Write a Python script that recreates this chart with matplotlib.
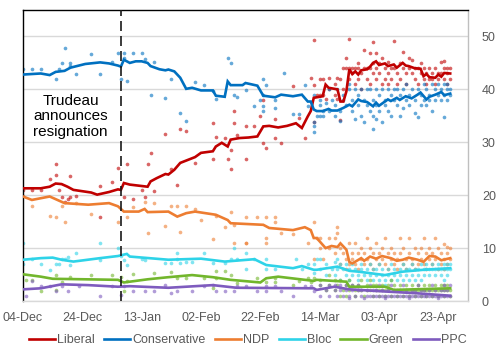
import matplotlib
matplotlib.use("Agg")
import matplotlib.pyplot as plt
import pandas as pd

plt.rcParams['font.family'] = ['Liberation Sans', 'DejaVu Sans']

# ---------------- data ----------------
parties = ["Liberal", "Conservative", "NDP", "Bloc", "Green", "PPC"]
tick_labels = ["04-Dec", "24-Dec", "13-Jan", "02-Feb", "22-Feb", "14-Mar", "03-Apr", "23-Apr"]
tick_dates = ["12-04", "12-24", "01-13", "02-02", "02-22", "03-14", "04-03", "04-23"]
event_date = "01-06"
event_text = "Trudeau\nannounces\nresignation"

lib_trend = {"12-04": 21.3, "12-10": 21.3, "12-13": 21.6, "12-15": 22.2, "12-17": 22.1, "12-19": 21.6,
             "12-21": 21.0, "12-27": 20.5, "12-29": 20.1, "01-02": 20.6, "01-05": 21.1, "01-06": 21.0,
             "01-07": 22.3, "01-09": 22.0, "01-15": 21.6, "01-16": 22.6, "01-18": 23.2, "01-21": 24.0,
             "01-22": 23.9, "01-24": 24.8, "01-26": 26.1, "01-31": 27.2, "02-02": 28.0, "02-06": 28.3,
             "02-07": 29.2, "02-09": 29.9, "02-11": 29.2, "02-12": 30.5, "02-15": 30.8, "02-18": 30.9,
             "02-21": 31.1, "02-23": 33.0, "02-25": 33.1, "02-28": 32.8, "03-03": 33.1, "03-06": 33.6,
             "03-08": 32.7, "03-10": 34.9, "03-11": 35.9, "03-12": 38.4, "03-15": 38.7, "03-16": 40.9,
             "03-17": 40.3, "03-20": 40.0, "03-21": 37.7, "03-22": 37.7, "03-23": 39.6, "03-24": 43.8,
             "03-25": 42.9, "03-26": 43.4, "03-27": 42.8, "03-28": 43.6, "03-30": 43.8, "03-31": 44.3,
             "04-01": 45.0, "04-02": 45.3, "04-03": 44.6, "04-05": 44.9, "04-06": 44.4, "04-08": 44.7,
             "04-09": 44.1, "04-11": 45.0, "04-12": 44.5, "04-13": 44.4, "04-15": 44.0, "04-17": 43.9,
             "04-18": 42.5, "04-19": 42.9, "04-20": 42.3, "04-22": 42.2, "04-23": 42.8, "04-24": 42.4,
             "04-25": 43.1, "04-27": 43.0}
cons_trend = {"12-04": 42.8, "12-10": 43.0, "12-13": 42.7, "12-15": 43.3, "12-18": 43.5, "12-20": 44.1,
              "12-25": 44.8, "12-30": 45.1, "01-02": 44.9, "01-05": 44.5, "01-06": 44.3, "01-07": 45.6,
              "01-09": 45.0, "01-11": 45.3, "01-13": 45.3, "01-15": 45.0, "01-16": 44.4, "01-19": 43.8,
              "01-21": 43.6, "01-22": 43.75, "01-24": 43.4, "01-26": 42.2, "01-28": 40.1, "01-30": 40.3,
              "02-02": 39.8, "02-06": 39.8, "02-07": 38.8, "02-10": 38.6, "02-11": 41.5, "02-12": 40.8,
              "02-16": 40.8, "02-17": 41.2, "02-21": 40.7, "02-23": 38.8, "02-27": 38.5, "03-01": 39.0,
              "03-05": 38.7, "03-08": 39.0, "03-10": 37.7, "03-11": 37.7, "03-12": 36.2, "03-13": 35.9,
              "03-15": 35.9, "03-17": 36.3, "03-18": 36.0, "03-20": 36.0, "03-22": 36.5, "03-24": 37.1,
              "03-25": 36.8, "03-27": 38.1, "03-28": 37.8, "03-30": 37.6, "04-01": 36.8, "04-02": 37.5,
              "04-03": 36.9, "04-06": 38.1, "04-07": 37.8, "04-09": 38.4, "04-10": 38.0, "04-12": 38.7,
              "04-14": 38.3, "04-16": 39.0, "04-17": 39.4, "04-19": 38.1, "04-20": 38.6, "04-22": 39.0,
              "04-24": 39.5, "04-25": 38.9, "04-27": 39.2}
ndp_trend = {"12-04": 19.75, "12-07": 19.1, "12-13": 19.75, "12-18": 18.5, "12-26": 18.2, "01-02": 18.5,
             "01-05": 17.9, "01-07": 16.9, "01-12": 16.9, "01-14": 17.4, "01-15": 16.8, "01-22": 16.9,
             "01-25": 15.95, "01-28": 16.6, "01-31": 16.9, "02-07": 16.3, "02-11": 15.3, "02-12": 14.7,
             "02-23": 14.4, "02-25": 13.8, "03-05": 13.4, "03-09": 13.95, "03-11": 13.4, "03-12": 11.9,
             "03-13": 11.9, "03-16": 10.0, "03-18": 10.4, "03-20": 10.2, "03-21": 10.9, "03-23": 9.7,
             "03-24": 7.4, "03-25": 7.1, "03-28": 8.1, "03-29": 7.6, "03-31": 8.4, "04-02": 8.0,
             "04-04": 8.5, "04-07": 8.1, "04-09": 7.6, "04-11": 7.8, "04-13": 8.2, "04-16": 7.8,
             "04-18": 7.4, "04-20": 8.5, "04-22": 8.4, "04-24": 7.7, "04-27": 8.1}
bloc_trend = {"12-04": 7.8, "12-10": 8.1, "12-14": 8.2, "12-17": 7.8, "12-21": 7.45, "12-30": 8.1,
              "01-05": 8.5, "01-08": 8.9, "01-09": 8.4, "01-22": 7.8, "02-02": 8.0, "02-10": 7.45,
              "02-20": 7.9, "02-24": 6.8, "03-05": 6.2, "03-08": 6.6, "03-12": 5.9, "03-13": 5.9,
              "03-20": 6.5, "03-24": 5.7, "03-27": 5.55, "04-05": 4.9, "04-11": 5.55, "04-18": 5.9,
              "04-27": 6.2}
green_trend = {"12-04": 5.05, "12-10": 4.6, "12-14": 4.2, "01-05": 4.0, "01-07": 3.5, "01-15": 4.1,
               "01-22": 4.5, "01-30": 4.9, "02-06": 4.5, "02-12": 4.0, "02-22": 3.5, "02-24": 4.3,
               "02-28": 4.6, "03-12": 3.8, "03-13": 4.0, "03-23": 3.65, "03-24": 2.7, "04-05": 2.7,
               "04-08": 2.1, "04-27": 2.4}
ppc_trend = {"12-04": 2.2, "12-10": 2.4, "12-17": 3.15, "12-26": 3.0, "01-05": 2.7, "01-09": 2.8,
             "01-22": 2.5, "02-06": 3.0, "02-14": 2.5, "03-12": 2.4, "03-13": 2.1, "03-19": 2.7,
             "03-24": 2.2, "04-05": 1.8, "04-16": 1.45, "04-27": 1.0}

lib_polls = {"12-04": [21.0], "12-07": [21.0], "12-10": [21.0], "12-13": [23.0], "12-15": [25.9, 23.9],
             "12-16": [21.0], "12-17": [19.75], "12-18": [18.8], "12-19": [19.3], "12-20": [23.7, 19.75],
             "12-22": [19.9], "12-30": [21.8, 15.8], "01-03": [22.4], "01-05": [25.1], "01-07": [19.75],
             "01-08": [25.8], "01-10": [19.3], "01-13": [21.0], "01-14": [19.75], "01-15": [25.9],
             "01-16": [28.0], "01-17": [20.7], "01-21": [31.6], "01-23": [24.9], "01-25": [22.0],
             "01-26": [32.5], "01-28": [32.1], "01-31": [26.1], "02-06": [33.6, 26.8], "02-07": [31.0],
             "02-10": [30.9], "02-11": [26.8], "02-12": [24.9, 28.5], "02-13": [36.0, 33.6], "02-14": [31.4],
             "02-17": [33.0, 26.8], "02-20": [33.1], "02-22": [34.9], "02-23": [37.9, 29.9], "02-24": [28.9],
             "02-27": [34.4, 30.8], "03-01": [29.9], "03-05": [40.7], "03-07": [34.6], "03-09": [30.8],
             "03-11": [42.2], "03-12": [49.4, 40.8, 33.8], "03-13": [39.0],
             "03-14": [39.0, 42.0], "03-15": [42.0, 39.0], "03-16": [38.1], "03-17": [42.2, 40.0],
             "03-19": [39.0, 41.0], "03-20": [42.2, 38.1], "03-21": [34.2, 42.0], "03-22": [44.0, 40.0],
             "03-23": [44.0, 46.0], "03-24": [49.5, 44.0, 42.0], "03-25": [43.0, 44.0], "03-26": [41.0, 44.0],
             "03-27": [44.9, 42.0, 44.0], "03-28": [43.0, 40.0], "03-29": [47.4, 44.0], "03-30": [42.0, 44.0],
             "03-31": [46.9, 44.0, 41.0], "04-01": [48.9, 45.0, 43.0], "04-02": [46.9, 44.0, 42.0],
             "04-03": [45.0, 43.0], "04-04": [46.0, 41.0], "04-05": [44.0, 42.0], "04-06": [45.1, 43.0, 41.0],
             "04-07": [44.0, 42.0], "04-08": [49.1, 44.0], "04-09": [43.0, 41.0], "04-10": [45.0, 42.0],
             "04-11": [44.0, 47.0], "04-12": [43.0, 41.0], "04-13": [46.0, 44.0], "04-14": [45.6, 43.0],
             "04-15": [42.0, 44.0], "04-16": [44.0, 41.0], "04-17": [43.0, 45.0], "04-18": [42.0, 44.0],
             "04-19": [43.0, 41.0], "04-20": [44.0, 42.0], "04-21": [42.0, 43.0], "04-22": [44.0, 41.0],
             "04-23": [42.0, 43.0], "04-24": [45.1, 43.0], "04-25": [45.4, 42.0, 44.0],
             "04-26": [43.0, 41.0, 44.0], "04-27": [44.0, 42.0]}
cons_polls = {"12-04": [43.9], "12-07": [43.9], "12-10": [43.9], "12-15": [42.0], "12-16": [43.9],
              "12-17": [44.9], "12-18": [47.9], "12-20": [44.4, 44.9], "12-22": [42.9], "12-27": [46.6],
              "12-30": [42.9], "01-03": [45.1], "01-05": [46.9], "01-06": [42.0], "01-07": [46.9, 46.0],
              "01-08": [41.5], "01-10": [46.9], "01-13": [46.9], "01-14": [45.8], "01-16": [39.0],
              "01-17": [45.1], "01-21": [38.4], "01-23": [42.0], "01-26": [35.5], "01-28": [34.0],
              "01-31": [41.4], "02-03": [40.8], "02-06": [39.6], "02-07": [38.2], "02-11": [46.0],
              "02-12": [44.9], "02-13": [38.9], "02-14": [38.6], "02-17": [39.8], "02-20": [36.8],
              "02-22": [37.9], "02-23": [42.0, 36.9, 36.0, 39.0], "02-24": [40.9], "02-27": [37.9, 36.5],
              "03-02": [43.0], "03-05": [35.4], "03-07": [35.4], "03-09": [40.9], "03-10": [36.9],
              "03-12": [39.0, 33.8, 33.0, 31.9], "03-13": [34.9],
              "03-14": [37.0, 38.0, 34.9], "03-15": [36.0, 34.9], "03-16": [37.5], "03-17": [40.0, 36.0],
              "03-18": [38.0], "03-19": [37.0, 35.0], "03-20": [40.0], "03-21": [36.0, 34.0],
              "03-22": [38.0, 39.0], "03-23": [37.0], "03-24": [41.0, 40.0], "03-25": [38.0, 36.0],
              "03-26": [34.4, 40.0], "03-27": [37.0, 39.0], "03-28": [40.0, 35.0], "03-29": [33.8, 38.0],
              "03-30": [40.0, 37.0], "03-31": [36.0, 40.0], "04-01": [32.5, 38.0, 35.0],
              "04-02": [40.0, 34.4, 37.0], "04-03": [39.0, 36.0], "04-04": [40.0, 33.8], "04-05": [38.0, 37.0],
              "04-06": [40.0, 36.0], "04-07": [39.0, 34.9], "04-08": [40.0, 38.0], "04-09": [37.0, 40.0],
              "04-10": [39.0, 34.9], "04-11": [40.0, 36.5], "04-12": [38.0, 41.0], "04-13": [39.0, 37.0],
              "04-14": [40.0], "04-15": [38.0, 35.5], "04-16": [34.7, 40.0], "04-17": [39.0, 37.0],
              "04-18": [41.0, 38.0], "04-19": [40.0, 37.0], "04-20": [39.0, 38.0], "04-21": [41.0, 36.0],
              "04-22": [40.0, 38.0], "04-23": [41.0, 39.0], "04-24": [38.0, 40.0], "04-25": [41.0, 39.0, 34.8],
              "04-26": [40.0, 38.0, 41.0], "04-27": [39.0, 40.0]}
ndp_polls = {"12-04": [19.9], "12-07": [17.9], "12-13": [16.0], "12-15": [15.8], "12-17": [17.9],
             "12-18": [15.0], "12-22": [18.6], "12-27": [16.4], "01-05": [15.0], "01-08": [15.8],
             "01-10": [17.7], "01-14": [18.8], "01-15": [12.8], "01-17": [18.6], "01-21": [14.2],
             "01-23": [17.9], "01-25": [17.9], "01-26": [13.1], "01-28": [17.9], "01-31": [17.3],
             "02-02": [15.3], "02-06": [11.7], "02-07": [16.0], "02-10": [13.95], "02-12": [16.8],
             "02-13": [10.9, 14.4], "02-17": [15.8, 10.9, 11.0], "02-21": [15.8], "02-24": [15.8, 11.9, 10.9],
             "02-27": [15.8, 15.0], "03-01": [12.8], "03-05": [12.7], "03-10": [10.9], "03-12": [15.0, 7.9],
             "03-13": [11.9],
             "03-14": [11.9, 10.0], "03-15": [8.0], "03-17": [10.0, 12.0], "03-19": [11.9, 9.0],
             "03-20": [13.9, 12.8], "03-21": [10.0, 7.0], "03-22": [9.0], "03-23": [8.0, 6.0],
             "03-24": [10.9, 7.0], "03-25": [8.0, 9.0], "03-26": [10.9, 7.0], "03-27": [9.0, 6.0],
             "03-28": [8.0, 10.0], "03-29": [7.0, 9.0], "03-30": [11.9, 8.0], "03-31": [10.0, 7.0],
             "04-01": [9.0, 6.0], "04-02": [10.9, 8.0], "04-03": [7.0, 9.0], "04-04": [8.0, 10.0],
             "04-05": [11.9, 7.0], "04-06": [9.0, 6.0], "04-07": [8.0, 10.0], "04-08": [7.0, 9.0],
             "04-09": [8.0, 6.0], "04-10": [11.9, 9.0], "04-11": [7.0, 10.0], "04-12": [8.0, 6.0],
             "04-13": [11.9, 9.0], "04-14": [7.0, 8.0], "04-15": [10.0, 6.0], "04-16": [9.0, 7.0],
             "04-17": [8.0, 10.0], "04-18": [11.9, 7.0], "04-19": [9.0, 6.0], "04-20": [10.0, 8.0],
             "04-21": [7.0, 9.0], "04-22": [11.9, 8.0], "04-23": [10.0, 6.0], "04-24": [9.0, 7.0],
             "04-25": [10.8, 8.0, 6.0], "04-26": [10.3, 9.0, 7.0], "04-27": [8.0, 10.0]}
bloc_polls = {"12-04": [10.9, 7.0], "12-07": [7.9], "12-10": [7.0], "12-13": [5.9], "12-15": [7.0],
              "12-16": [7.0], "12-17": [7.9], "12-18": [7.9], "12-19": [8.4], "12-20": [6.8], "12-22": [9.0],
              "12-30": [10.9, 7.8], "01-05": [10.0], "01-06": [8.5], "01-07": [7.8], "01-08": [6.8],
              "01-13": [7.9], "01-14": [7.8], "01-21": [7.1], "01-23": [7.25], "01-25": [9.0, 7.9],
              "01-26": [7.1], "01-28": [7.45], "01-30": [7.45], "02-03": [9.0], "02-06": [7.1],
              "02-10": [7.1], "02-12": [7.9], "02-13": [10.0], "02-14": [7.9], "02-17": [9.0, 6.0],
              "02-20": [7.9], "02-24": [7.9, 6.0], "02-27": [6.0], "03-06": [7.9], "03-08": [6.0],
              "03-10": [6.95], "03-12": [6.95, 5.2], "03-13": [7.9],
              "03-14": [6.0, 8.0], "03-16": [7.0, 5.0], "03-18": [6.0], "03-19": [7.45, 5.0],
              "03-20": [6.0, 8.0], "03-21": [7.0, 4.0], "03-22": [6.0], "03-23": [5.0, 7.0],
              "03-24": [6.0, 4.0], "03-25": [5.0, 7.0], "03-26": [6.0], "03-27": [5.0, 4.0],
              "03-28": [6.0, 7.0], "03-29": [5.0], "03-30": [4.0, 6.0], "03-31": [5.0, 7.0],
              "04-01": [6.0, 4.0], "04-02": [5.0, 6.0], "04-03": [4.0, 7.0], "04-04": [5.0, 6.0],
              "04-05": [4.0, 3.0], "04-06": [6.0, 5.0], "04-07": [4.0, 7.0], "04-08": [5.0, 6.0],
              "04-09": [4.0], "04-10": [6.0, 5.0], "04-11": [7.0, 4.0], "04-12": [6.0, 5.0],
              "04-13": [4.0, 6.0], "04-14": [5.0, 7.0], "04-15": [6.0, 4.0], "04-16": [5.0, 6.0],
              "04-17": [7.0, 4.0], "04-18": [6.0, 5.0], "04-19": [6.0, 7.0], "04-20": [5.0, 6.0],
              "04-21": [7.0, 6.0], "04-22": [5.0, 6.0], "04-23": [6.0, 7.0], "04-24": [5.0, 6.0],
              "04-25": [7.0, 4.0, 6.0], "04-26": [6.0, 5.0, 7.0], "04-27": [6.0, 7.0]}
green_polls = {"12-05": [4.0], "12-07": [4.0], "12-10": [1.8], "12-15": [4.9, 2.1], "12-17": [3.65],
               "12-20": [4.5], "12-27": [4.9], "01-03": [4.9], "01-06": [4.6], "01-07": [1.8],
               "01-08": [3.8], "01-10": [5.1], "01-17": [5.2], "01-23": [5.4], "01-25": [4.4],
               "01-28": [4.4], "02-03": [4.4], "02-06": [2.4], "02-07": [5.7, 4.4], "02-10": [5.7],
               "02-12": [4.9], "02-14": [3.35], "02-21": [4.4], "02-24": [3.5], "02-27": [4.4, 3.5],
               "03-05": [3.0], "03-07": [3.8], "03-10": [4.4], "03-11": [3.5], "03-12": [4.4],
               "03-14": [3.0, 4.0], "03-16": [2.0], "03-17": [3.0, 5.0], "03-19": [2.0, 4.0],
               "03-20": [3.0], "03-21": [1.0, 4.0], "03-22": [2.0], "03-23": [3.0, 1.0],
               "03-24": [2.0, 4.0], "03-25": [3.0], "03-26": [2.0, 1.0], "03-27": [3.0, 2.0],
               "03-28": [4.0, 2.0], "03-29": [1.0], "03-30": [3.0, 2.0], "03-31": [2.0, 4.0],
               "04-01": [3.0, 1.0], "04-02": [2.0, 3.0], "04-03": [1.0, 2.0], "04-04": [3.0, 2.0],
               "04-05": [2.0, 1.0], "04-06": [3.0, 2.0], "04-07": [1.0, 4.0], "04-08": [2.0, 3.0],
               "04-09": [2.0, 1.0], "04-10": [3.0, 2.0], "04-11": [1.0, 2.0], "04-12": [3.0, 2.0],
               "04-13": [2.0, 1.0], "04-14": [3.0, 2.0], "04-15": [2.0, 1.0], "04-16": [3.0, 2.0],
               "04-17": [1.0, 2.0], "04-18": [3.0, 2.0], "04-19": [2.0, 1.0], "04-20": [3.0, 2.0],
               "04-21": [2.0, 1.0], "04-22": [3.0, 2.0], "04-23": [2.0, 1.0], "04-24": [3.0, 2.0],
               "04-25": [2.0, 3.0, 1.0], "04-26": [2.0, 3.0], "04-27": [2.0, 1.0]}
ppc_polls = {"12-05": [0.95], "12-07": [3.8], "12-10": [2.85], "12-13": [2.8], "12-15": [1.9],
             "12-17": [2.85], "12-19": [1.9], "12-23": [2.85], "12-30": [0.95], "01-03": [2.85],
             "01-06": [1.1], "01-07": [2.85], "01-10": [1.9], "01-14": [1.9], "01-17": [1.9],
             "01-21": [3.0], "01-23": [1.6], "01-25": [1.9], "01-30": [1.9], "02-03": [2.85],
             "02-06": [3.0], "02-07": [1.9], "02-10": [1.9], "02-13": [1.9], "02-14": [2.85],
             "02-17": [2.85], "02-21": [1.9], "02-24": [1.9, 2.85], "02-27": [2.85], "03-01": [1.9],
             "03-05": [1.0], "03-09": [2.85], "03-11": [2.85], "03-12": [1.9],
             "03-14": [3.0, 1.0], "03-16": [2.0], "03-17": [3.0, 1.0], "03-19": [2.0, 3.0],
             "03-20": [1.0], "03-21": [3.0, 2.0], "03-22": [1.0], "03-23": [2.0, 3.0],
             "03-24": [1.0, 0.5], "03-25": [2.0, 3.0], "03-26": [1.0], "03-27": [2.0, 3.0],
             "03-28": [1.0, 2.0], "03-29": [0.5], "03-30": [2.0, 1.0], "03-31": [3.0, 1.0],
             "04-01": [2.0, 1.0], "04-02": [1.0, 2.0], "04-03": [3.0, 1.0], "04-04": [2.0, 1.0],
             "04-05": [1.0, 0.5], "04-06": [2.0, 1.0], "04-07": [3.0, 1.0], "04-08": [1.0, 2.0],
             "04-09": [1.0], "04-10": [2.0, 1.0], "04-11": [1.0, 3.0], "04-12": [2.0, 1.0],
             "04-13": [1.0, 0.5], "04-14": [2.0, 1.0], "04-15": [1.0, 2.0], "04-16": [1.0, 3.0],
             "04-17": [2.0, 1.0], "04-18": [1.0, 2.0], "04-19": [1.0], "04-20": [2.0, 1.0],
             "04-21": [3.0, 1.0], "04-22": [1.0, 2.0], "04-23": [1.0, 0.5], "04-24": [2.0, 1.0],
             "04-25": [1.0, 3.0, 2.0], "04-26": [1.0, 2.0], "04-27": [1.0, 3.0]}

colors = ["#C00000", "#0070C0", "#ED7D31", "#2ED3E8", "#72B62C", "#7E5BBE"]
trends = [lib_trend, cons_trend, ndp_trend, bloc_trend, green_trend, ppc_trend]
polls = [lib_polls, cons_polls, ndp_polls, bloc_polls, green_polls, ppc_polls]


def to_date(md):
    m = int(md[:2])
    return pd.Timestamp(f"{2024 if m == 12 else 2025}-{md}")


# ---------------- figure ----------------
fig = plt.figure(figsize=(4.98, 3.51), dpi=100)
ax = fig.add_axes([23 / 498, 1 - 301 / 351, 445 / 498, 291 / 351])

for name, col, tr, pl in zip(parties, colors, trends, polls):
    px = [to_date(d) for d, vals in pl.items() for _ in vals]
    py = [v for vals in pl.values() for v in vals]
    ax.scatter(px, py, s=7, color=col, alpha=0.6, linewidths=0, zorder=2)

for name, col, tr in zip(parties, colors, trends):
    tx = [to_date(d) for d in tr]
    ty = list(tr.values())
    ax.plot(tx, ty, color=col, lw=1.9, label=name, zorder=3, solid_joinstyle='miter')

ev = to_date(event_date)
ax.axvline(ev, color="#1a1a1a", lw=1.2, dashes=(6, 3), zorder=4)
ax.text(to_date("12-20"), 34.9, event_text, ha="center", va="center", fontsize=11,
        linespacing=1.12, color="black", zorder=5)

ax.set_xlim(to_date("12-04"), to_date("12-04") + pd.Timedelta(days=150))
ax.set_ylim(0, 55)
ax.set_yticks([0, 10, 20, 30, 40, 50])
ax.yaxis.tick_right()
ax.grid(axis="y", color="#D9D9D9", lw=1)
ax.set_axisbelow(True)
ax.set_xticks([to_date(d) for d in tick_dates])
ax.set_xticklabels(tick_labels)
ax.tick_params(axis="both", length=0, labelsize=9, labelcolor="#595959")
ax.tick_params(axis="y", pad=10)
ax.tick_params(axis="x", pad=8)

ax.spines["left"].set_color("black")
ax.spines["top"].set_color("black")
ax.spines["right"].set_color("#BFBFBF")
ax.spines["bottom"].set_color("#D9D9D9")
for s in ax.spines.values():
    s.set_linewidth(1)

leg = fig.legend(loc="center", bbox_to_anchor=(0.497, 0.03), ncol=6, frameon=False, fontsize=9,
                 handlelength=2.1, handletextpad=0.15, columnspacing=0.75, borderaxespad=0)
for t in leg.get_texts():
    t.set_color("#595959")

fig.savefig("out.png", dpi=100)
